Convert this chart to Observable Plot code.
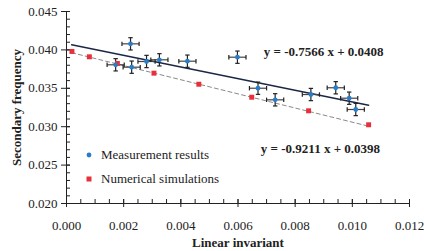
<!DOCTYPE html>
<html>
<head>
<meta charset="utf-8">
<script src="https://cdn.jsdelivr.net/npm/d3@7"></script>
<script src="https://cdn.jsdelivr.net/npm/@observablehq/plot@0.6"></script>
<style>
  html, body { margin: 0; padding: 0; background: #fff; }
  #wrap { position: relative; width: 424px; height: 251px; font-family: "Liberation Serif", "DejaVu Serif", "Noto Serif", serif; }
  #wrap svg text { font-family: "Liberation Serif", "DejaVu Serif", "Noto Serif", serif !important; }
  .leg { position: absolute; left: 84px; font-size: 13px; color: #222; display: flex; align-items: center; white-space: nowrap; font-family: "Liberation Serif", "DejaVu Serif", serif; }
  .leg .sw { width: 10px; margin-right: 7px; display: flex; justify-content: center; }
</style>
</head>
<body>
<div id="wrap"></div>
<script>
// Measurement results (blue) with error bars
const measX = [0.00172, 0.00224, 0.00228, 0.00280, 0.00325, 0.00423, 0.00598, 0.00670, 0.00730, 0.00855, 0.00942, 0.00989, 0.01012];
const measY = [0.03806, 0.04079, 0.03775, 0.03849, 0.03871, 0.03853, 0.03905, 0.03501, 0.03350, 0.03419, 0.03507, 0.03371, 0.03224];
const measXErr = 0.0003;
const measYErr = 0.0008;
// Numerical simulations (red)
const simX = [0.00019, 0.00080, 0.00178, 0.00306, 0.00463, 0.00648, 0.00847, 0.01057];
const simY = [0.03980, 0.03910, 0.03823, 0.03697, 0.03553, 0.03384, 0.03207, 0.03025];
// Trend lines
const fitMeas = {slope: -0.7566, intercept: 0.0408, label: "y = -0.7566 x + 0.0408"};
const fitSim = {slope: -0.9211, intercept: 0.0398, label: "y = -0.9211 x + 0.0398"};
const fitRange = [0.00018, 0.01057];
const xTicks = [0, 0.002, 0.004, 0.006, 0.008, 0.010, 0.012];
const yTicks = [0.020, 0.025, 0.030, 0.035, 0.040, 0.045];

const meas = measX.map((x, i) => ({x, y: measY[i]}));
const sim = simX.map((x, i) => ({x, y: simY[i]}));
const lineOf = f => fitRange.map(x => ({x, y: f.slope * x + f.intercept}));

const xMinor = d3.range(0, 0.01201, 0.0005).map(v => +v.toFixed(4));
const yMinor = d3.range(0.020, 0.04501, 0.001).map(v => +v.toFixed(3));

const hbar = {draw(c, size) { const r = Math.sqrt(size / Math.PI); c.moveTo(-r, 0); c.lineTo(r, 0); }};
const vbar = {draw(c, size) { const r = Math.sqrt(size / Math.PI); c.moveTo(0, -r); c.lineTo(0, r); }};

const font = '"Liberation Serif", "DejaVu Serif", serif';
const plot = Plot.plot({
  width: 424, height: 251,
  marginLeft: 66, marginRight: 15, marginTop: 11, marginBottom: 48,
  style: {fontFamily: font, fontSize: "13px", color: "#222", background: "#fff"},
  x: {domain: [0, 0.012]},
  y: {domain: [0.020, 0.045]},
  marks: [
    // inward minor ticks
    Plot.axisX({ticks: xMinor, tickSize: -4, tickFormat: () => "", label: null}),
    Plot.axisY({ticks: yMinor, tickSize: -4, tickFormat: () => "", label: null}),
    // major ticks crossing
    Plot.axisX({ticks: xTicks, tickSize: -4, tickFormat: () => "", label: null}),
    Plot.axisY({ticks: yTicks, tickSize: -4, tickFormat: () => "", label: null}),
    Plot.axisX({ticks: xTicks, tickSize: 4, tickPadding: 13, tickFormat: d => d.toFixed(3), label: null, fontSize: 13, fontFamily: font}),
    Plot.axisY({ticks: yTicks, tickSize: 5, tickPadding: 4, tickFormat: d => d.toFixed(3), label: null, fontSize: 13, fontFamily: font}),
    Plot.ruleX([0], {stroke: "#222"}),
    Plot.ruleY([0.020], {stroke: "#222"}),
    // trend lines
    Plot.line(lineOf(fitSim), {x: "x", y: "y", stroke: "#8a8a8a", strokeWidth: 1, strokeDasharray: "4,3"}),
    Plot.line(lineOf(fitMeas), {x: "x", y: "y", stroke: "#1c2745", strokeWidth: 1.5}),
    // error bars
    Plot.link(meas, {x1: d => d.x - measXErr, x2: d => d.x + measXErr, y1: "y", y2: "y", stroke: "#444", strokeWidth: 1.2}),
    Plot.link(meas, {x1: "x", x2: "x", y1: d => d.y - measYErr, y2: d => d.y + measYErr, stroke: "#222", strokeWidth: 1.2}),
    Plot.dot(meas, {x: d => d.x - measXErr, y: "y", symbol: vbar, r: 2.2, stroke: "#222", strokeWidth: 1.2}),
    Plot.dot(meas, {x: d => d.x + measXErr, y: "y", symbol: vbar, r: 2.2, stroke: "#222", strokeWidth: 1.2}),
    Plot.dot(meas, {x: "x", y: d => d.y - measYErr, symbol: hbar, r: 2.2, stroke: "#222", strokeWidth: 1.2}),
    Plot.dot(meas, {x: "x", y: d => d.y + measYErr, symbol: hbar, r: 2.2, stroke: "#222", strokeWidth: 1.2}),
    // points
    Plot.dot(sim, {x: "x", y: "y", symbol: "square", r: 2.8, fill: "#e8303c"}),
    Plot.dot(meas, {x: "x", y: "y", r: 2.4, fill: "#2a7cc6"}),
    // equations
    Plot.text([fitMeas], {x: () => 0.0069, y: () => 0.0398, text: "label", textAnchor: "start", fontWeight: "bold", fontSize: 13, fontFamily: font, fill: "#222"}),
    Plot.text([fitSim], {x: () => 0.0068, y: () => 0.02716, text: "label", textAnchor: "start", fontWeight: "bold", fontSize: 13, fontFamily: font, fill: "#222"}),
    // axis titles
    Plot.text(["Linear invariant"], {frameAnchor: "bottom", lineAnchor: "middle", dy: 39, text: d => d, fontWeight: "bold", fontSize: 13, fontFamily: font, fill: "#222"}),
    Plot.text(["Secondary frequency"], {frameAnchor: "left", textAnchor: "middle", dx: -50, rotate: -90, text: d => d, fontWeight: "bold", fontSize: 13, fontFamily: font, fill: "#222"})
  ]
});
const wrap = document.getElementById("wrap");
wrap.appendChild(plot);
const legendItems = [
  {label: "Measurement results", top: 147, sw: '<svg width="8" height="8"><circle cx="4" cy="4" r="2.4" fill="#2a7cc6"/></svg>'},
  {label: "Numerical simulations", top: 171, sw: '<svg width="8" height="8"><rect x="1.5" y="1.5" width="5" height="5" fill="#e8303c"/></svg>'}
];
for (const it of legendItems) {
  const d = document.createElement("div");
  d.className = "leg";
  d.style.top = it.top + "px";
  d.innerHTML = `<span class="sw">${it.sw}</span><span>${it.label}</span>`;
  wrap.appendChild(d);
}
</script>
</body>
</html>
